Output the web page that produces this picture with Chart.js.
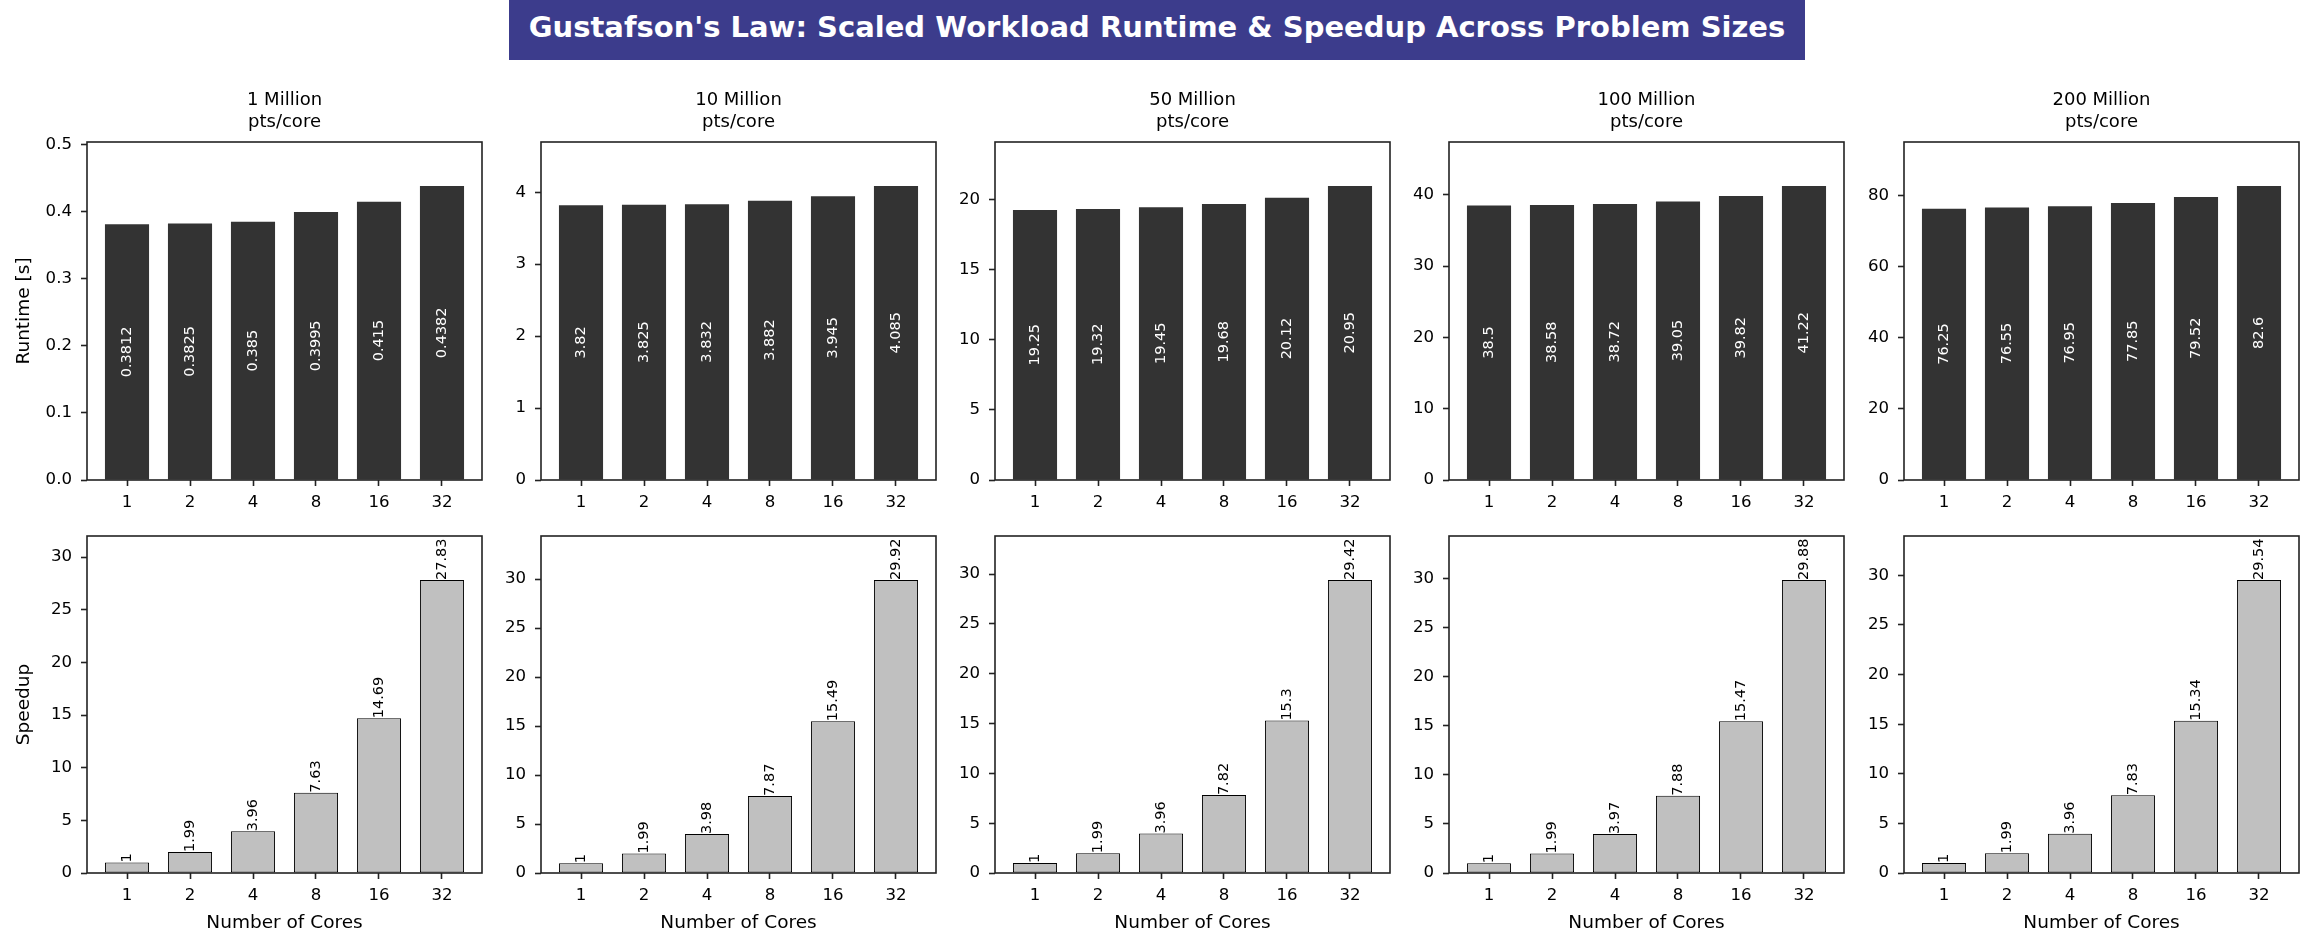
<!DOCTYPE html>
<html>
<head>
<meta charset="utf-8">
<script src="https://cdn.jsdelivr.net/npm/chart.js@4.4.0/dist/chart.umd.min.js"></script>
<style>
    body { margin: 0; background: #fff; width: 2314px; height: 949px; position: relative; overflow: hidden; }
    canvas { position: absolute; }
    #title {
        position: absolute; left: 509px; top: 0; width: 1296px; height: 60px;
        background: #3c3c8c; color: #fff; text-align: center;
        font: bold 29px "DejaVu Sans"; line-height: 54px;
    }
</style>
</head>
<body>
<div id="title">Gustafson's Law: Scaled Workload Runtime &amp; Speedup Across Problem Sizes</div>
<script>
const cores = ["1", "2", "4", "8", "16", "32"];
const sizes = ["1 Million", "10 Million", "50 Million", "100 Million", "200 Million"];

// runtime [s] per problem size
const runtime1M = [0.3812, 0.3825, 0.385, 0.3995, 0.415, 0.4382];
const runtime10M = [3.82, 3.825, 3.832, 3.882, 3.945, 4.085];
const runtime50M = [19.25, 19.32, 19.45, 19.68, 20.12, 20.95];
const runtime100M = [38.5, 38.58, 38.72, 39.05, 39.82, 41.22];
const runtime200M = [76.25, 76.55, 76.95, 77.85, 79.52, 82.6];

// speedup per problem size
const speedup1M = [1, 1.99, 3.96, 7.63, 14.69, 27.83];
const speedup10M = [1, 1.99, 3.98, 7.87, 15.49, 29.92];
const speedup50M = [1, 1.99, 3.96, 7.82, 15.3, 29.42];
const speedup100M = [1, 1.99, 3.97, 7.88, 15.47, 29.88];
const speedup200M = [1, 1.99, 3.96, 7.83, 15.34, 29.54];

const runtimeSteps = [0.1, 1, 5, 10, 20];
const speedupStep = 5;

const runtimes = [runtime1M, runtime10M, runtime50M, runtime100M, runtime200M];
const speedups = [speedup1M, speedup10M, speedup50M, speedup100M, speedup200M];

Chart.defaults.font.family = "DejaVu Sans";
Chart.defaults.color = "#000";

const plotLefts = [87, 541, 995, 1449, 1904];
const plotW = 395;
const axisW = 80;

// frame around the plot area, like matplotlib spines
const boxPlugin = {
    id: "box",
    afterDraw(chart) {
        const a = chart.chartArea;
        const ctx = chart.ctx;
        ctx.save();
        ctx.strokeStyle = "#222";
        ctx.lineWidth = 1.6;
        ctx.strokeRect(a.left, a.top, a.right - a.left, a.bottom - a.top);
        ctx.restore();
    }
};

function barLabels(color, inside) {
    return {
        id: "barLabels",
        afterDatasetsDraw(chart) {
            const ctx = chart.ctx;
            const meta = chart.getDatasetMeta(0);
            const vals = chart.data.datasets[0].data;
            ctx.save();
            ctx.fillStyle = color;
            ctx.font = '14.5px "DejaVu Sans"';
            meta.data.forEach((bar, i) => {
                ctx.save();
                ctx.translate(bar.x, inside ? (bar.y + bar.base) / 2 : bar.y);
                ctx.rotate(-Math.PI / 2);
                ctx.textAlign = inside ? "center" : "left";
                ctx.textBaseline = "middle";
                ctx.fillText(String(vals[i].y), 0, 0);
                ctx.restore();
            });
            ctx.restore();
        }
    };
}

function makePanel(col, top, values, opts) {
    const canvas = document.createElement("canvas");
    const w = axisW + plotW + 12;
    canvas.width = w;
    canvas.height = opts.height;
    canvas.style.left = (plotLefts[col] - axisW) + "px";
    canvas.style.top = top + "px";
    canvas.style.width = w + "px";
    canvas.style.height = opts.height + "px";
    document.body.appendChild(canvas);

    const ymax = Math.max(...values) * 1.15;

    new Chart(canvas, {
        type: "bar",
        data: {
            datasets: [{
                data: values.map((v, i) => ({ x: i, y: v })),
                backgroundColor: opts.fill,
                borderColor: "#000",
                borderWidth: opts.edge,
                borderSkipped: false,
                barPercentage: 0.7,
                categoryPercentage: 1.0
            }]
        },
        options: {
            responsive: false,
            animation: false,
            layout: { padding: { top: opts.padTop, right: 12 } },
            plugins: {
                legend: { display: false },
                tooltip: { enabled: false },
                title: {
                    display: !!opts.title,
                    fullSize: false,
                    text: opts.title || "",
                    font: { size: 18, weight: "normal", lineHeight: 1.2 },
                    color: "#000",
                    padding: { top: 0, bottom: 8.8 }
                }
            },
            scales: {
                x: {
                    type: "linear",
                    min: -0.635,
                    max: 5.635,
                    offset: false,
                    afterBuildTicks: s => { s.ticks = cores.map((c, i) => ({ value: i })); },
                    afterFit: s => { s.height = opts.xh; },
                    grid: { display: true, drawOnChartArea: false, offset: false, tickLength: 6, tickWidth: 1.6, tickColor: "#222" },
                    border: { display: false },
                    ticks: { padding: 7, autoSkip: false, maxRotation: 0, font: { size: 16.6 }, callback: v => cores[v] },
                    title: {
                        display: !!opts.xTitle,
                        text: opts.xTitle || "",
                        font: { size: 18.5 },
                        padding: { top: 0, bottom: 14 }
                    }
                },
                y: {
                    min: 0,
                    max: ymax,
                    afterFit: s => { s.width = axisW; },
                    grid: { display: true, drawOnChartArea: false, tickLength: 6, tickWidth: 1.6, tickColor: "#222" },
                    border: { display: false },
                    ticks: { stepSize: opts.step, includeBounds: false, padding: 9, font: { size: 16.6 }, callback: opts.fmt },
                    title: {
                        display: !!opts.yTitle,
                        text: opts.yTitle || "",
                        font: { size: 18.5 },
                        padding: { top: 6, bottom: 0 }
                    }
                }
            }
        },
        plugins: [boxPlugin, barLabels(opts.labelColor, opts.inside)]
    });
}

for (let c = 0; c < 5; c++) {
    makePanel(c, 90, runtimes[c], {
        height: 430, padTop: 0, xh: 40,
        title: [sizes[c], "pts/core"],
        yTitle: c === 0 ? "Runtime [s]" : "",
        fill: "#333333", edge: 0,
        step: runtimeSteps[c],
        fmt: c === 0 ? (v => v.toFixed(1)) : (v => String(v)),
        labelColor: "#fff", inside: true
    });
    makePanel(c, 516, speedups[c], {
        height: 432, padTop: 20, xh: 75,
        xTitle: "Number of Cores",
        yTitle: c === 0 ? "Speedup" : "",
        fill: "#c0c0c0", edge: 1,
        step: speedupStep,
        fmt: v => String(v),
        labelColor: "#000", inside: false
    });
}
</script>
</body>
</html>
